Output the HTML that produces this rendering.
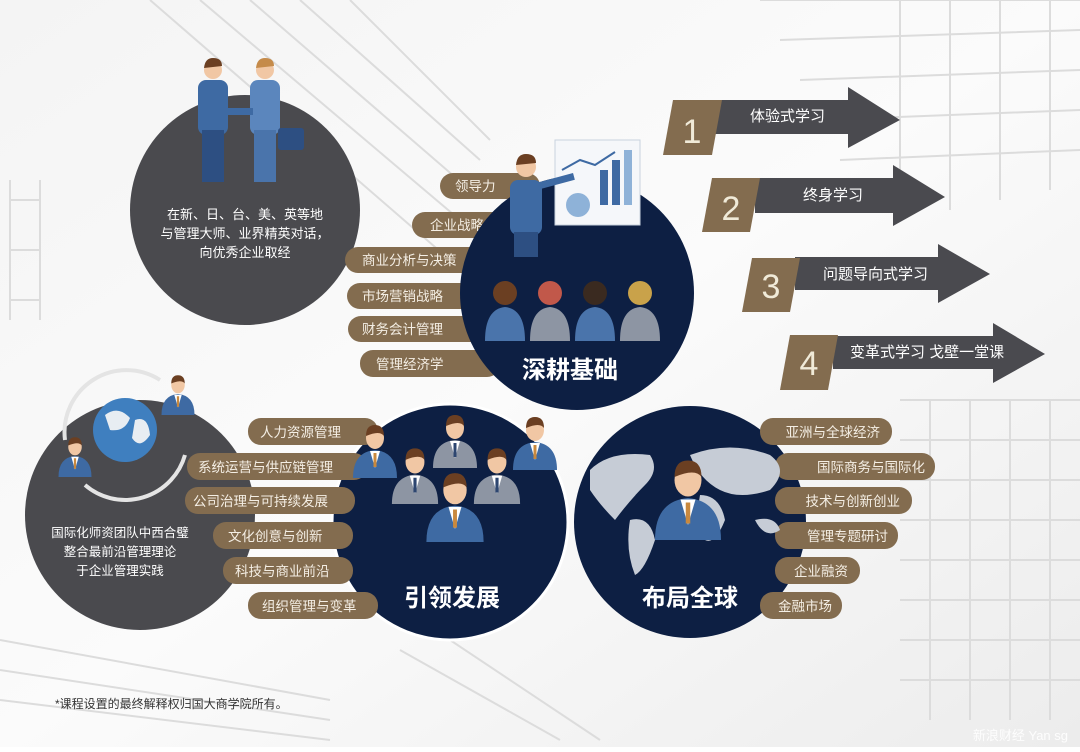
<!DOCTYPE html>
<html><head><meta charset="utf-8"><style>
html,body{margin:0;padding:0;background:#fff}
svg text{font-family:"Liberation Sans","Noto Sans CJK SC",sans-serif}
</style></head><body>
<svg width="1080" height="747" viewBox="0 0 1080 747" xmlns="http://www.w3.org/2000/svg">
<defs>
<linearGradient id="bg" x1="0" y1="0" x2="1" y2="1">
<stop offset="0" stop-color="#f4f4f4"/><stop offset="0.5" stop-color="#fbfbfb"/><stop offset="1" stop-color="#ececec"/></linearGradient>
<g id="person">
<path d="M-22,40 Q-22,14 0,12 Q22,14 22,40 Z" fill="#3e6aa3"/>
<path d="M-5,13 L0,30 L5,13 Z" fill="#fff"/>
<rect x="-1.5" y="15" width="3" height="14" fill="#c9893e"/>
<ellipse cx="0" cy="0" rx="9" ry="11" fill="#f1c7a4"/>
<path d="M-9,-2 Q-9,-13 0,-13 Q9,-13 9,-2 Q5,-8 -9,-2Z" fill="#6b3f22"/>
</g>
<g id="grayp">
<path d="M-22,40 Q-22,14 0,12 Q22,14 22,40 Z" fill="#8d95a3"/>
<path d="M-5,13 L0,30 L5,13 Z" fill="#fff"/>
<rect x="-1.5" y="15" width="3" height="14" fill="#2d4670"/>
<ellipse cx="0" cy="0" rx="9" ry="11" fill="#f1c7a4"/>
<path d="M-9,-2 Q-9,-13 0,-13 Q9,-13 9,-2 Q5,-8 -9,-2Z" fill="#6b3f22"/>
</g>
</defs>
<rect width="1080" height="747" fill="url(#bg)"/>
<!-- building sketch hints -->
<g stroke="#dcdcdc" stroke-width="2" fill="none">
<path d="M150,0 L450,260 M200,0 L460,220 M250,0 L470,190 M300,0 L480,160 M350,0 L490,140"/>
<path d="M760,0 L1080,0 M780,40 L1080,30 M800,80 L1080,70 M820,120 L1080,110 M840,160 L1080,150"/>
<path d="M900,0 L900,220 M950,0 L950,210 M1000,0 L1000,200 M1050,0 L1050,190"/>
<path d="M900,400 L1080,400 M900,440 L1080,440 M900,480 L1080,480 M900,520 L1080,520 M900,560 L1080,560 M900,600 L1080,600 M900,640 L1080,640 M900,680 L1080,680"/>
<path d="M930,400 L930,720 M970,400 L970,720 M1010,400 L1010,720 M1050,400 L1050,720"/>
<path d="M0,640 L330,700 M0,670 L330,720 M0,700 L330,740 M400,650 L560,740 M450,640 L600,740"/>
<path d="M10,180 L10,320 M40,180 L40,320 M10,200 L40,200 M10,250 L40,250 M10,300 L40,300"/>
</g>

<!-- top-left gray circle -->
<circle cx="245" cy="210" r="115" fill="#4a4a4e"/>
<g fill="#fff" font-size="13" text-anchor="middle">
<text x="245" y="219">在新、日、台、美、英等地</text>
<text x="245" y="238">与管理大师、业界精英对话，</text>
<text x="245" y="257">向优秀企业取经</text>
</g>
<!-- handshake people -->
<g>
<rect x="198" y="80" width="30" height="55" rx="8" fill="#3e6aa3"/>
<rect x="202" y="130" width="22" height="52" fill="#2d4f82"/>
<circle cx="213" cy="70" r="9" fill="#f1c7a4"/><path d="M204,68 Q205,58 213,58 Q222,58 222,66 Z" fill="#6b3f22"/>
<rect x="250" y="80" width="30" height="55" rx="8" fill="#5b86bd"/>
<rect x="254" y="130" width="22" height="52" fill="#4a74ab"/>
<circle cx="265" cy="70" r="9" fill="#f1c7a4"/><path d="M256,68 Q257,58 265,58 Q274,58 274,66 Z" fill="#c58b4a"/>
<rect x="278" y="128" width="26" height="22" rx="3" fill="#2d4f82"/>
<rect x="225" y="108" width="28" height="7" fill="#3e6aa3"/>
</g>

<!-- bottom-left gray circle -->
<circle cx="140" cy="515" r="115" fill="#4a4a4e"/>
<g fill="#fff" font-size="12.5" text-anchor="middle">
<text x="120" y="537">国际化师资团队中西合璧</text>
<text x="120" y="556">整合最前沿管理理论</text>
<text x="120" y="575">于企业管理实践</text>
</g>
<path d="M65,440 A62,62 0 0 1 160,380" stroke="#e4e4e4" stroke-width="4" fill="none"/>
<path d="M85,485 A62,62 0 0 0 185,455" stroke="#e4e4e4" stroke-width="4" fill="none"/>
<circle cx="125" cy="430" r="32" fill="#3f7fbf"/>
<path d="M105,415 Q118,405 130,418 Q125,432 110,430 Z M135,420 Q148,415 150,435 Q140,450 132,438 Z" fill="#e8edf2"/>
<g transform="translate(75,447) scale(0.75)"><use href="#person"/></g>
<g transform="translate(178,385) scale(0.75)"><use href="#person"/></g>

<!-- labels top cluster -->
<g font-size="13.5" fill="#f4eee4">
<rect x="440" y="173" width="100" height="26" rx="13" fill="#836c4f"/><text x="455" y="191">领导力</text>
<rect x="412" y="212" width="100" height="26" rx="13" fill="#836c4f"/><text x="430" y="230">企业战略</text>
<rect x="345" y="247" width="140" height="26" rx="13" fill="#836c4f"/><text x="362" y="265">商业分析与决策</text>
<rect x="347" y="283" width="140" height="26" rx="13" fill="#836c4f"/><text x="362" y="301">市场营销战略</text>
<rect x="348" y="316" width="140" height="26" rx="13" fill="#836c4f"/><text x="362" y="334">财务会计管理</text>
<rect x="360" y="350" width="140" height="27" rx="13" fill="#836c4f"/><text x="376" y="369">管理经济学</text>
</g>

<!-- navy circles -->
<circle cx="577" cy="293" r="117" fill="#0d1f43"/>
<circle cx="690" cy="522" r="116" fill="#0d1f43"/>
<circle cx="450" cy="522" r="118" fill="#0d1f43"/>
<!-- separation strokes -->
<circle cx="450" cy="522" r="118" fill="none" stroke="#fff" stroke-width="3"/>

<!-- left lower labels -->
<g font-size="13.5" fill="#f4eee4">
<rect x="248" y="418" width="130" height="27" rx="13" fill="#836c4f"/><text x="260" y="437">人力资源管理</text>
<rect x="187" y="453" width="180" height="27" rx="13" fill="#836c4f"/><text x="198" y="472">系统运营与供应链管理</text>
<rect x="185" y="487" width="170" height="27" rx="13" fill="#836c4f"/><text x="193" y="506">公司治理与可持续发展</text>
<rect x="213" y="522" width="140" height="27" rx="13" fill="#836c4f"/><text x="228" y="541">文化创意与创新</text>
<rect x="223" y="557" width="130" height="27" rx="13" fill="#836c4f"/><text x="235" y="576">科技与商业前沿</text>
<rect x="248" y="592" width="130" height="27" rx="13" fill="#836c4f"/><text x="262" y="611">组织管理与变革</text>
</g>
<!-- right labels -->
<g font-size="13.5" fill="#f4eee4" text-anchor="end">
<rect x="760" y="418" width="132" height="27" rx="13" fill="#836c4f"/><text x="880" y="437">亚洲与全球经济</text>
<rect x="775" y="453" width="160" height="27" rx="13" fill="#836c4f"/><text x="925" y="472">国际商务与国际化</text>
<rect x="775" y="487" width="137" height="27" rx="13" fill="#836c4f"/><text x="900" y="506">技术与创新创业</text>
<rect x="775" y="522" width="123" height="27" rx="13" fill="#836c4f"/><text x="888" y="541">管理专题研讨</text>
<rect x="775" y="557" width="85" height="27" rx="13" fill="#836c4f"/><text x="848" y="576">企业融资</text>
<rect x="760" y="592" width="82" height="27" rx="13" fill="#836c4f"/><text x="832" y="611">金融市场</text>
</g>

<!-- presenter + board -->
<rect x="555" y="140" width="85" height="85" fill="#f5f7fa" stroke="#c9d3df"/>
<rect x="600" y="170" width="8" height="35" fill="#3e6aa3"/><rect x="612" y="160" width="8" height="45" fill="#3e6aa3"/><rect x="624" y="150" width="8" height="55" fill="#8eb2d8"/>
<circle cx="578" cy="205" r="12" fill="#8eb2d8"/>
<path d="M562,170 L580,160 L595,165 L615,152" stroke="#3e6aa3" stroke-width="2" fill="none"/>
<rect x="510" y="180" width="32" height="55" rx="8" fill="#3e6aa3"/>
<rect x="540" y="182" width="35" height="7" fill="#3e6aa3" transform="rotate(-15 540 185)"/>
<circle cx="526" cy="167" r="10" fill="#f1c7a4"/><path d="M516,165 Q517,154 526,154 Q536,154 536,163Z" fill="#6b3f22"/>
<rect x="514" y="232" width="24" height="25" fill="#2d4f82"/>
<!-- audience -->
<g>
<rect x="485" y="300" width="175" height="42" fill="#0d1f43"/>
<g transform="translate(505,293)"><path d="M-20,48 Q-20,16 0,14 Q20,16 20,48Z" fill="#4a74ab"/><circle r="12" fill="#6b3f22"/></g>
<g transform="translate(550,293)"><path d="M-20,48 Q-20,16 0,14 Q20,16 20,48Z" fill="#8d95a3"/><circle r="12" fill="#c1584a"/></g>
<g transform="translate(595,293)"><path d="M-20,48 Q-20,16 0,14 Q20,16 20,48Z" fill="#4a74ab"/><circle r="12" fill="#3a2a20"/></g>
<g transform="translate(640,293)"><path d="M-20,48 Q-20,16 0,14 Q20,16 20,48Z" fill="#8d95a3"/><circle r="12" fill="#c9a24a"/></g>
</g>
<text x="570" y="378" font-size="24" font-weight="bold" fill="#fff" text-anchor="middle">深耕基础</text>

<!-- group people -->
<g transform="translate(375,438)"><use href="#person"/></g>
<g transform="translate(535,430)"><use href="#person"/></g>
<g transform="translate(455,428)"><use href="#grayp"/></g>
<g transform="translate(415,462) scale(1.05)"><use href="#grayp"/></g>
<g transform="translate(497,462) scale(1.05)"><use href="#grayp"/></g>
<g transform="translate(455,490) scale(1.3)"><use href="#person"/></g>
<text x="452" y="606" font-size="24" font-weight="bold" fill="#fff" text-anchor="middle">引领发展</text>

<!-- world map + person -->
<g fill="#c6ccd6">
<path d="M590,470 Q610,450 650,455 Q660,470 645,485 Q630,500 615,520 Q600,505 590,490Z"/>
<path d="M630,520 Q650,515 655,540 Q645,570 635,575 Q625,550 630,520Z"/>
<path d="M690,455 Q730,440 770,455 Q790,470 770,490 Q740,500 720,490 Q700,480 690,455Z"/>
<path d="M700,495 Q720,495 725,520 Q715,545 705,540 Q695,520 700,495Z"/>
<path d="M755,520 Q775,515 780,530 Q765,540 755,520Z"/>
</g>
<g transform="translate(688,480) scale(1.5)"><use href="#person"/></g>
<text x="690" y="606" font-size="24" font-weight="bold" fill="#fff" text-anchor="middle">布局全球</text>

<!-- arrows -->
<g font-size="15" fill="#fff">
<path d="M715,100 L848,100 L848,87 L900,120 L848,148 L848,134 L715,134Z" fill="#4a4a4f"/>
<path d="M673,100 L722,100 L712,155 L663,155Z" fill="#836c4f"/>
<text x="750" y="121">体验式学习</text>
<text x="692" y="143" font-size="34" fill="#f0ead8" text-anchor="middle">1</text>

<path d="M755,178 L893,178 L893,165 L945,197 L893,226 L893,213 L755,213Z" fill="#4a4a4f"/>
<path d="M712,178 L760,178 L750,232 L702,232Z" fill="#836c4f"/>
<text x="803" y="200">终身学习</text>
<text x="731" y="220" font-size="34" fill="#f0ead8" text-anchor="middle">2</text>

<path d="M795,257 L938,257 L938,244 L990,274 L938,303 L938,290 L795,290Z" fill="#4a4a4f"/>
<path d="M752,258 L800,258 L790,312 L742,312Z" fill="#836c4f"/>
<text x="823" y="279">问题导向式学习</text>
<text x="771" y="298" font-size="34" fill="#f0ead8" text-anchor="middle">3</text>

<path d="M833,336 L993,336 L993,323 L1045,354 L993,383 L993,369 L833,369Z" fill="#4a4a4f"/>
<path d="M790,335 L838,335 L828,390 L780,390Z" fill="#836c4f"/>
<text x="850" y="357">变革式学习 戈壁一堂课</text>
<text x="809" y="375" font-size="34" fill="#f0ead8" text-anchor="middle">4</text>
</g>

<text x="55" y="708" font-size="12" fill="#333">*课程设置的最终解释权归国大商学院所有。</text>
<text x="1068" y="740" font-size="13" fill="#fff" text-anchor="end" opacity="0.9">新浪财经 Yan sg</text>
</svg>
</body></html>
